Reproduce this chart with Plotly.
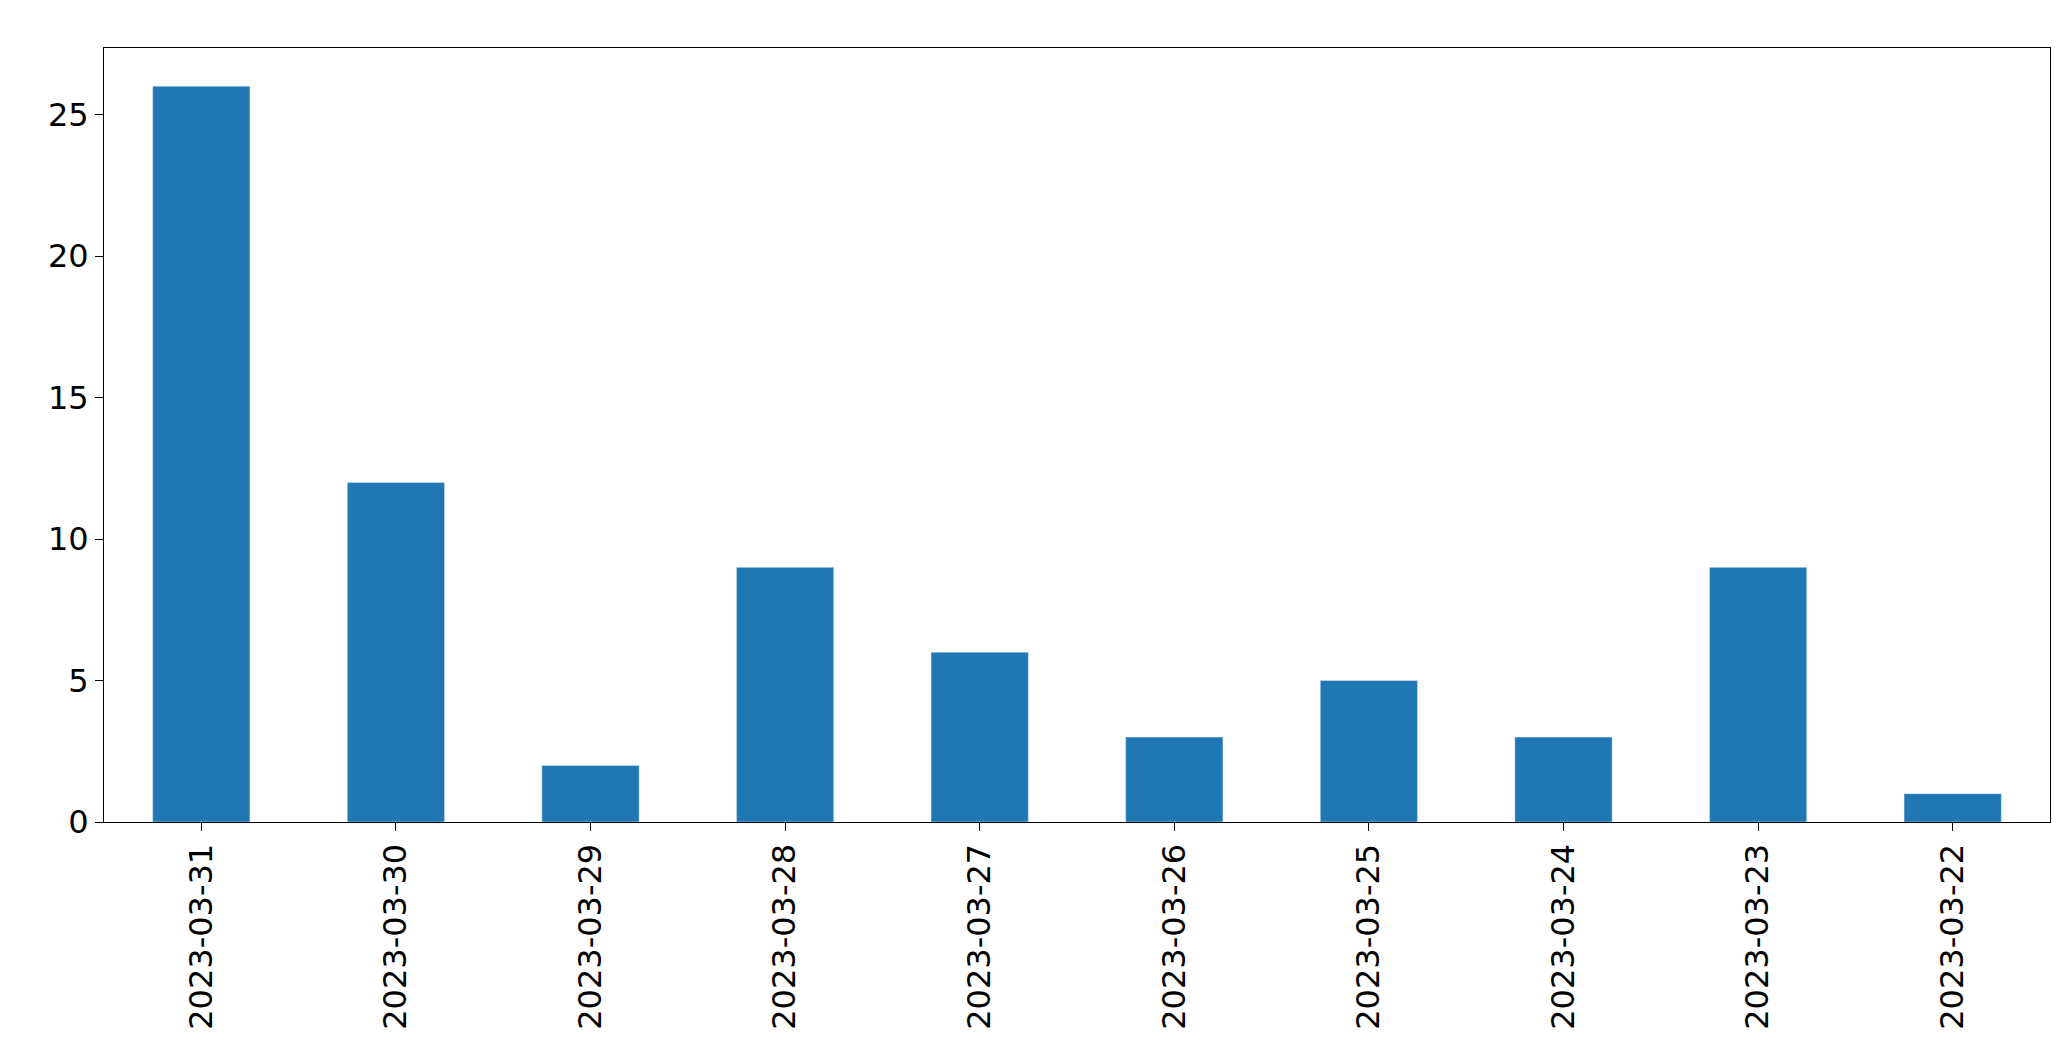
import plotly.graph_objects as go

dates = ["2023-03-31","2023-03-30","2023-03-29","2023-03-28","2023-03-27",
         "2023-03-26","2023-03-25","2023-03-24","2023-03-23","2023-03-22"]
counts = [26, 12, 2, 9, 6, 3, 5, 3, 9, 1]
yticks = [0, 5, 10, 15, 20, 25]

fig = go.Figure(go.Bar(x=dates, y=counts, marker_color="#1f77b4", width=0.5))
fig.update_layout(
    width=2071, height=1061, plot_bgcolor="white", paper_bgcolor="white",
    margin=dict(l=96, r=29, t=40, b=247),
    font=dict(family="DejaVu Sans", size=32, color="black"),
    showlegend=False,
)
fig.update_xaxes(type="category", tickangle=-90, showline=True, linecolor="black",
                 mirror=True, ticks="outside", ticklen=8, tickcolor="black", showgrid=False)
fig.update_yaxes(range=[0, 27.35], tickvals=yticks, showline=True, linecolor="black",
                 mirror=True, ticks="outside", ticklen=8, tickcolor="black",
                 showgrid=False, zeroline=False)
fig.write_html("out.html")
